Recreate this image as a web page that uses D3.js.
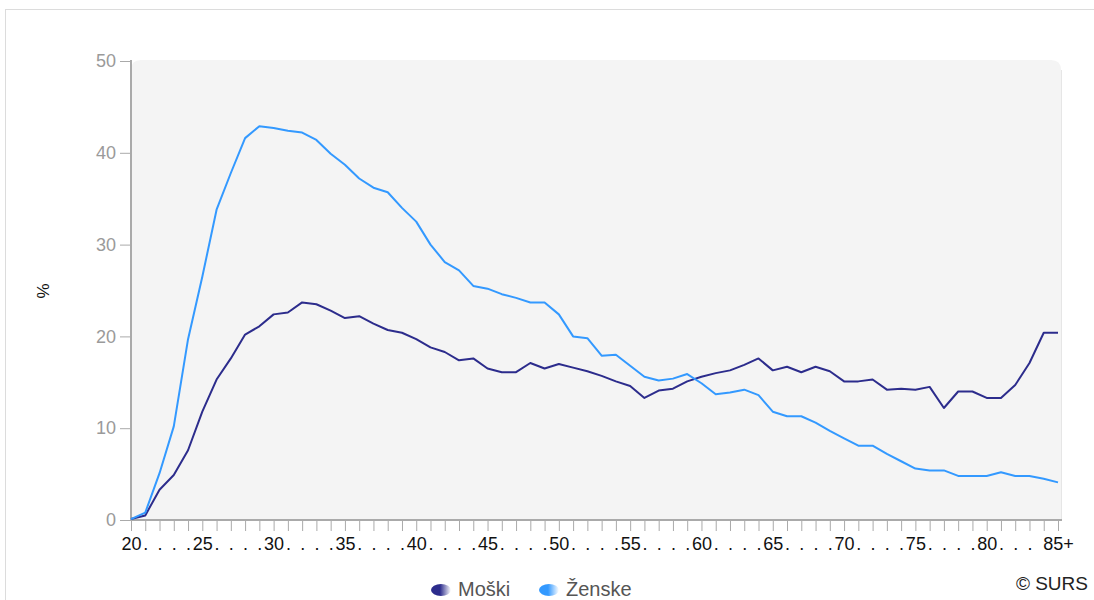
<!DOCTYPE html>
<html>
<head>
<meta charset="utf-8">
<script src="https://cdn.jsdelivr.net/npm/d3@7"></script>
<style>
  html, body { margin: 0; padding: 0; background: #ffffff; }
  svg { display: block; font-family: "Liberation Sans", Arial, sans-serif; }
</style>
</head>
<body>
<svg id="chart" width="1094" height="600"></svg>
<script>
const ages = d3.range(20, 86);
const xLabels = ages.map(a => a === 85 ? "85+" : (a === 84 ? "" : (a % 5 === 0 ? String(a) : ".")));
const yTicks = [0, 10, 20, 30, 40, 50];

const moski = [
  0.1, 0.5, 3.3, 4.9, 7.6, 11.8, 15.3, 17.6, 20.2, 21.1,
  22.4, 22.6, 23.7, 23.5, 22.8, 22.0, 22.2, 21.4, 20.7, 20.4,
  19.7, 18.8, 18.3, 17.4, 17.6, 16.5, 16.1, 16.1, 17.1, 16.5,
  17.0, 16.6, 16.2, 15.7, 15.1, 14.6, 13.3, 14.1, 14.3, 15.1,
  15.6, 16.0, 16.3, 16.9, 17.6, 16.3, 16.7, 16.1, 16.7, 16.2,
  15.1, 15.1, 15.3, 14.2, 14.3, 14.2, 14.5, 12.2, 14.0, 14.0,
  13.3, 13.3, 14.7, 17.1, 20.4, 20.4
];
const zenske = [
  0.1, 0.8, 5.1, 10.2, 19.7, 26.5, 33.8, 37.8, 41.6, 42.9,
  42.7, 42.4, 42.2, 41.4, 39.9, 38.7, 37.2, 36.2, 35.7, 34.0,
  32.5, 30.0, 28.1, 27.2, 25.5, 25.2, 24.6, 24.2, 23.7, 23.7,
  22.4, 20.0, 19.8, 17.9, 18.0, 16.8, 15.6, 15.2, 15.4, 15.9,
  14.9, 13.7, 13.9, 14.2, 13.6, 11.8, 11.3, 11.3, 10.6, 9.7,
  8.9, 8.1, 8.1, 7.2, 6.4, 5.6, 5.4, 5.4, 4.8, 4.8,
  4.8, 5.2, 4.8, 4.8, 4.5, 4.1
];
const seriesNames = ["Moški", "Ženske"];
const seriesColors = ["#2c2c8c", "#3399ff"];

const svg = d3.select("#chart");

// outer frame
svg.append("line").attr("x1", 5).attr("x2", 1094).attr("y1", 9.5).attr("y2", 9.5)
  .attr("stroke", "#dcdcdc").attr("stroke-width", 1);
svg.append("line").attr("x1", 5.5).attr("x2", 5.5).attr("y1", 9).attr("y2", 600)
  .attr("stroke", "#dcdcdc").attr("stroke-width", 1);

const x = d3.scalePoint().domain(ages).range([131, 1058]);
const y = d3.scaleLinear().domain([0, 50]).range([520, 61]);

// plot background with rounded top corners
const bx0 = 131, bx1 = 1061, by0 = 60, by1 = 520, r = 10;
svg.append("path")
  .attr("d", `M${bx0},${by1} L${bx0},${by0 + r} Q${bx0},${by0} ${bx0 + r},${by0} L${bx1 - r},${by0} Q${bx1},${by0} ${bx1},${by0 + r} L${bx1},${by1} Z`)
  .attr("fill", "#f4f4f4");
svg.append("line").attr("x1", bx1 + 0.5).attr("x2", bx1 + 0.5).attr("y1", by0 + r).attr("y2", by1)
  .attr("stroke", "#e6e6e6").attr("stroke-width", 1);

// y axis
const yAxis = d3.axisLeft(y).tickValues(yTicks).tickSize(11).tickPadding(4);
const gy = svg.append("g").attr("transform", "translate(131,0)").call(yAxis);
gy.select(".domain").remove();
gy.selectAll(".tick line").attr("stroke", "#aaaaaa");
gy.selectAll(".tick text").attr("fill", "#9a9a9a").style("font-size", "18px")
  .style("font-family", "Liberation Sans, Arial, sans-serif");
svg.append("line").attr("x1", 131).attr("x2", 131).attr("y1", 60).attr("y2", 521)
  .attr("stroke", "#aaaaaa").attr("stroke-width", 2);

// x axis
const xAxis = d3.axisBottom(x).tickFormat((d, i) => xLabels[i]).tickSize(11).tickPadding(6);
const gx = svg.append("g").attr("transform", "translate(0,520)").call(xAxis);
gx.select(".domain").remove();
gx.selectAll(".tick line").attr("stroke", "#aaaaaa");
gx.selectAll(".tick text").attr("fill", "#111111").style("font-size", "18px")
  .style("font-family", "Liberation Sans, Arial, sans-serif");
svg.append("line").attr("x1", 130).attr("x2", 1062).attr("y1", 520).attr("y2", 520)
  .attr("stroke", "#aaaaaa").attr("stroke-width", 2);

// y title
svg.append("text").attr("transform", "translate(49,291) rotate(-90)")
  .attr("text-anchor", "middle").attr("fill", "#111").style("font-size", "17px").text("%");

// lines
const line = d3.line().x((d, i) => x(ages[i])).y(d => y(d));
[moski, zenske].forEach((s, k) => {
  svg.append("path").datum(s).attr("d", line)
    .attr("fill", "none").attr("stroke", seriesColors[k]).attr("stroke-width", 2)
    .attr("stroke-linejoin", "round");
});

// legend
const defs = svg.append("defs");
seriesColors.forEach((c, k) => {
  const g = defs.append("linearGradient").attr("id", "lg" + k)
    .attr("x1", "0%").attr("x2", "100%").attr("y1", "0%").attr("y2", "0%");
  g.append("stop").attr("offset", "0%").attr("stop-color", c);
  g.append("stop").attr("offset", "45%").attr("stop-color", c);
  g.append("stop").attr("offset", "100%").attr("stop-color", "#ffffff");
});
const legendX = [441, 549];
seriesNames.forEach((n, k) => {
  svg.append("ellipse").attr("cx", legendX[k]).attr("cy", 590).attr("rx", 10).attr("ry", 6)
    .attr("fill", `url(#lg${k})`);
  svg.append("text").attr("x", legendX[k] + 17).attr("y", 596).attr("fill", "#555555")
    .style("font-size", "20px").text(n);
});

svg.append("text").attr("x", 1088).attr("y", 590).attr("text-anchor", "end")
  .attr("fill", "#222").style("font-size", "19px").text("© SURS");
</script>
</body>
</html>
